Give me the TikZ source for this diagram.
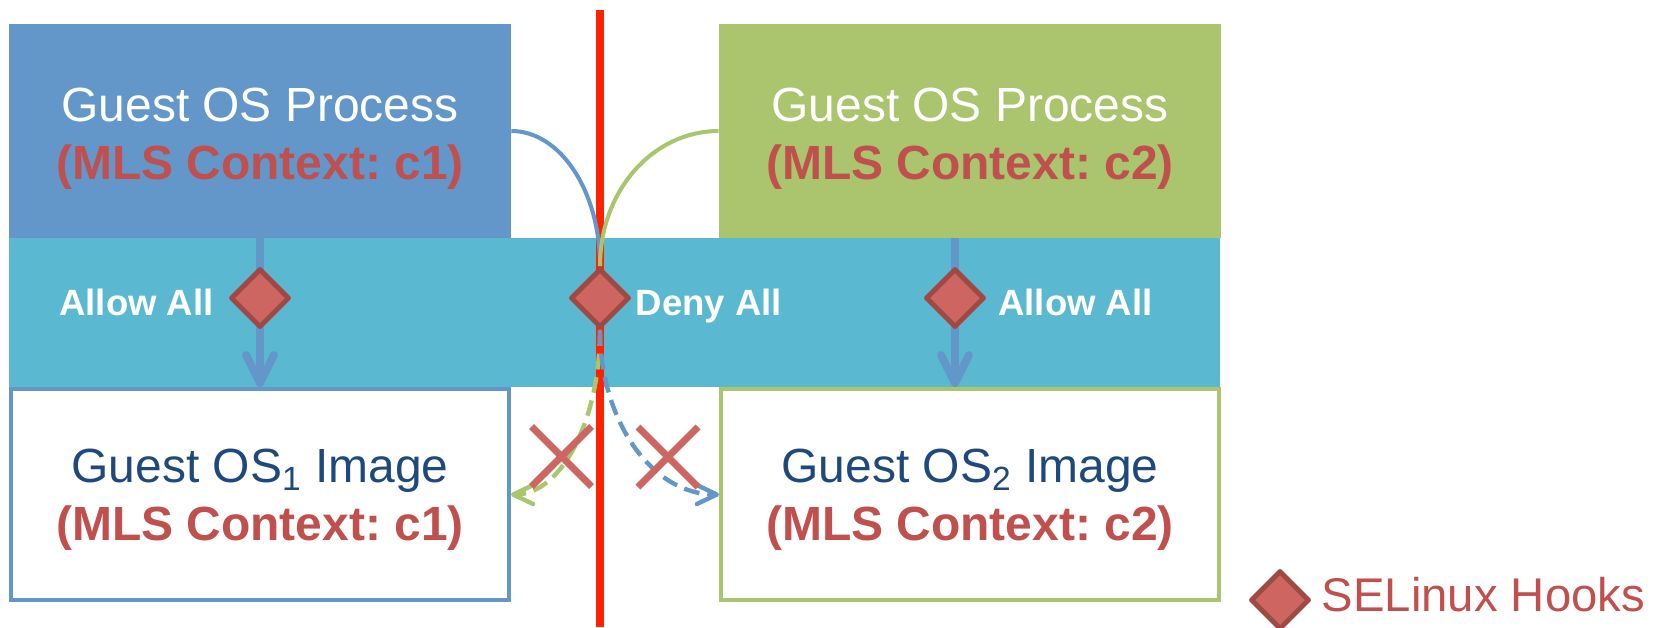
\documentclass[tikz,border=0pt]{standalone}
\usepackage{fontspec}
\setmainfont{Liberation Sans}
\usetikzlibrary{arrows.meta,positioning,shapes.geometric,shapes.misc,backgrounds}
\definecolor{ProcBlue}{RGB}{99,150,201}
\definecolor{ProcGreen}{RGB}{171,196,110}
\definecolor{BandCyan}{RGB}{91,184,209}
\definecolor{HookFill}{RGB}{205,102,96}
\definecolor{HookEdge}{RGB}{160,72,68}
\definecolor{CtxRed}{RGB}{192,80,77}
\definecolor{ImgBlue}{RGB}{31,73,125}
\definecolor{WallRed}{RGB}{255,34,0}
\newcommand{\mlsctx}[1]{\textcolor{CtxRed}{\bfseries(MLS Context: #1)}}
\frenchspacing

\begin{document}
\begin{tikzpicture}[
  x=0.02cm, y=-0.02cm,
  process/.style={
    minimum width=10.04cm,
    minimum height=4.28cm,
    inner sep=0pt
  },
  osimage/.style={
    draw,
    fill=white,
    line width=2.3pt,
    minimum width=9.96cm,
    minimum height=4.22cm,
    inner sep=0pt
  },
  boxtext/.style={inner sep=0pt, align=center, font=\fontsize{27.3}{33}\selectfont},
  band/.style={fill=BandCyan, minimum width=24.22cm, minimum height=2.98cm, inner sep=0pt},
  hook/.style={
    diamond,
    aspect=1,
    draw=HookEdge,
    fill=HookFill,
    line width=2.8pt,
    line join=round,
    minimum size=1.18cm,
    inner sep=0pt
  },
  rule/.style={text=white, font=\fontsize{20.8}{24}\selectfont\bfseries,
    inner sep=0pt, text height=14.9pt, text depth=0pt},
  wall/.style={WallRed, line width=4.55pt},
  link/.style={line width=2.3pt},
  flow/.style={ProcBlue, line width=4.5pt, -{Straight Barb[round,length=0.56cm,width=0.56cm]}},
  leak/.style={line width=2.5pt, dash pattern=on 9pt off 4.5pt,
    -{Straight Barb[round,length=0.4cm,width=0.38cm]}},
  blocked/.style={cross out, draw=HookFill, line width=4pt, minimum size=1.06cm, inner sep=0pt}
]
\useasboundingbox (0,0) rectangle (1653,627);

% processes and their disk images
\node[process, fill=ProcBlue] (blueproc) at (260,131) {};
\node[process, fill=ProcGreen] (greenproc) at (970,131) {};
\node[osimage, draw=ProcBlue] (blueimg) at (260,494.5) {};
\node[osimage, draw=ProcGreen] (greenimg) at (970,494.5) {};

\node[boxtext, text=white] (blueproctext) at ([yshift=-0.16cm]blueproc.center)
  {Guest OS Process\\\mlsctx{c1}};
\node[boxtext, text=white] (greenproctext) at ([yshift=-0.16cm]greenproc.center)
  {Guest OS Process\\\mlsctx{c2}};
\node[boxtext, text=ImgBlue] (blueimgtext) at ([yshift=-0.1cm]blueimg.center)
  {Guest OS\textsubscript{1} Image\\\mlsctx{c1}};
\node[boxtext, text=ImgBlue] (greenimgtext) at ([yshift=-0.1cm]greenimg.center)
  {Guest OS\textsubscript{2} Image\\\mlsctx{c2}};

% hooks
\node[hook] (hookleft) at (260,298) {};
\node[hook] (hookdeny) at (600,298) {};
\node[hook] (hookright) at (955,298) {};
\node[rule, left=0.28cm of hookleft, yshift=-0.08cm] (allowleft) {Allow All};
\node[rule, right=0.07cm of hookdeny, yshift=-0.08cm] (denymid) {Deny All};
\node[rule, right=0.22cm of hookright, yshift=-0.08cm] (allowright) {Allow All};

\node[blocked] (noleft) at (561.5,456.5) {};
\node[blocked] (noright) at (668,457) {};

% legend
\node[hook] (hookkey) at (1280,600) {};
\node[right=0.19cm of hookkey, yshift=0.1cm, inner sep=0pt, text height=19.3pt, text depth=0pt,
  text=CtxRed, font=\fontsize{26.9}{30}\selectfont] (hookkeytext) {SELinux Hooks};

\coordinate (walltop) at (600,10);
\coordinate (wallbot) at (600,627);

\begin{scope}[on background layer]
  \node[band] (policy) at (614.5,312.5) {};
  \draw[wall] (walltop) -- (wallbot);
  \draw[link, ProcBlue] (blueproc.east) .. controls +(49,0) and +(0,-75) .. (hookdeny.north);
  \draw[link, ProcGreen] (greenproc.west) .. controls +(-66,0) and +(0,-75) .. (hookdeny.north);
  \draw[flow] (hookleft |- blueproc.south) -- (hookleft |- blueimg.north);
  \draw[flow] (hookright |- greenproc.south) -- (hookright |- greenimg.north);
  \draw[leak, ProcGreen] (hookdeny.south) .. controls +(0,91) and +(50,0) .. (blueimg.east);
  \draw[leak, ProcBlue] (hookdeny.south) .. controls +(0,91) and +(-67,0) .. (greenimg.west);
\end{scope}
\end{tikzpicture}
\end{document}
